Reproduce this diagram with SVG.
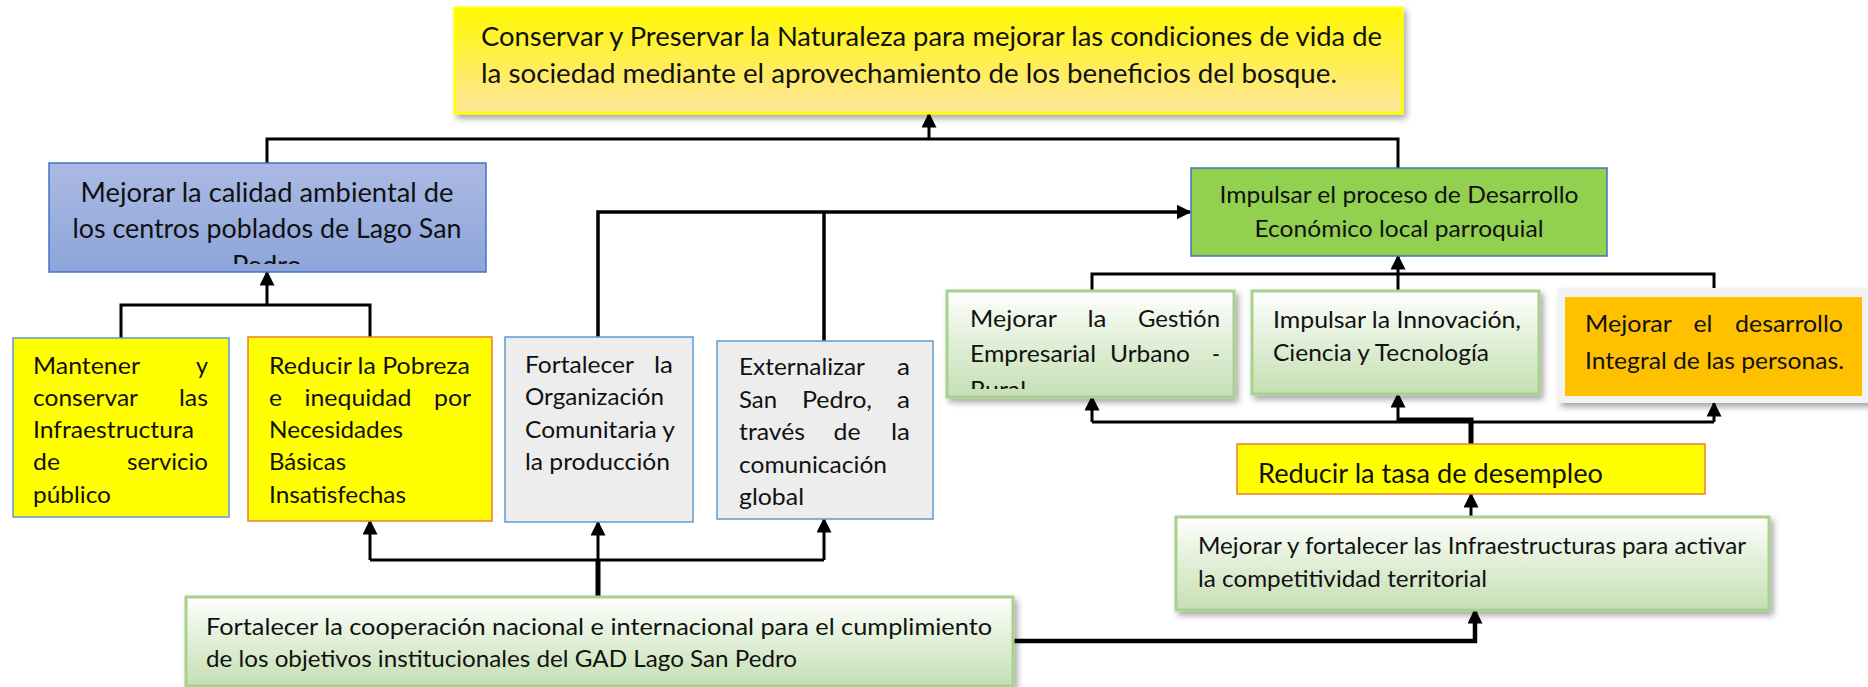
<svg xmlns="http://www.w3.org/2000/svg" width="1868" height="687" viewBox="0 0 1868 687">
<style>
text{font-family:Lato,"Noto Sans","Liberation Sans",sans-serif;fill:#111;font-size:23.5px}
.big{font-size:26.5px}
.blue{font-size:26px}
.e{text-anchor:end}
.m{text-anchor:middle}
.ln{fill:none;stroke:#000;stroke-width:3}
.th{fill:none;stroke:#000;stroke-width:5}
.ar{fill:none;stroke:#000;stroke-width:3;marker-end:url(#arr)}
.gbox{fill:url(#gGreen);stroke:#A9D18E;stroke-width:3;filter:url(#sh)}
</style>
<defs>
<linearGradient id="gTop" x1="0" y1="0" x2="0" y2="1"><stop offset="0" stop-color="#FFF800"/><stop offset="1" stop-color="#FFE59E"/></linearGradient>
<linearGradient id="gBlue" x1="0" y1="0" x2="0" y2="1"><stop offset="0" stop-color="#ABBAE3"/><stop offset="1" stop-color="#8DA5DA"/></linearGradient>
<linearGradient id="gGreen" x1="0" y1="0" x2="0" y2="1"><stop offset="0" stop-color="#FFFFFF"/><stop offset="0.45" stop-color="#E3F0DA"/><stop offset="1" stop-color="#C5E0B4"/></linearGradient>
<filter id="sh" x="-5%" y="-10%" width="115%" height="130%"><feDropShadow dx="3" dy="4" stdDeviation="3" flood-color="#000" flood-opacity="0.35"/></filter>
<marker id="arr" viewBox="0 0 10 10" refX="9" refY="5" markerWidth="15" markerHeight="15" markerUnits="userSpaceOnUse" orient="auto"><path d="M0,0 L10,5 L0,10 z" fill="#000"/></marker>
<clipPath id="cBlue"><rect x="49" y="163" width="437" height="101"/></clipPath>
<clipPath id="cGest"><rect x="947" y="291" width="287" height="98"/></clipPath>
<clipPath id="cRed"><rect x="1237" y="444" width="468" height="50"/></clipPath>
</defs>

<g id="connectors">
<path class="ln" d="M267 163 V139 H1398 V168"/>
<path class="ar" d="M929 139 V114"/>
<path class="ln" d="M121 338 V305 H370 V337"/>
<path class="ar" d="M267 305 V272"/>
<path class="ar" d="M598 337 V212 H1190" style="stroke-width:3.5"/>
<path class="ln" d="M824 341 V212" style="stroke-width:3.5"/>
<path class="ln" d="M1092 291 V274 H1714 V288"/>
<path class="ar" d="M1398 291 V256"/>
<path class="ln" d="M1092 422 H1714"/>
<path class="ar" d="M1092 422 V397"/>
<path class="ar" d="M1398 422 V394"/>
<path class="ar" d="M1714 422 V403"/>
<path class="th" d="M1471 444 V420 H1398"/>
<path class="ar" d="M1471 517 V494"/>
<path class="th" d="M598 597 V560"/>
<path class="ln" d="M370 560 H824"/>
<path class="ar" d="M370 560 V521"/>
<path class="ar" d="M598 560 V522"/>
<path class="ar" d="M824 560 V519"/>
<path class="ar" d="M1013 641 H1475 V610" style="stroke-width:4.5"/>
</g>

<g id="n-top">
<rect x="455" y="8" width="947" height="105" fill="url(#gTop)" stroke="#FFFF00" stroke-width="3" filter="url(#sh)"/>
<text class="big" x="481" y="46" textLength="901" lengthAdjust="spacingAndGlyphs">Conservar y Preservar la Naturaleza para mejorar las condiciones de vida de</text>
<text class="big" x="481" y="83" textLength="856" lengthAdjust="spacingAndGlyphs">la sociedad mediante el aprovechamiento de los beneficios del bosque.</text>
</g>

<g id="n-blue">
<rect x="49" y="163" width="437" height="109" fill="url(#gBlue)" stroke="#4472C4" stroke-width="1.5"/>
<g clip-path="url(#cBlue)">
<text class="blue m" x="267" y="202" textLength="373" lengthAdjust="spacingAndGlyphs">Mejorar la calidad ambiental de</text>
<text class="blue m" x="267" y="238" textLength="389" lengthAdjust="spacingAndGlyphs">los centros poblados de Lago San</text>
<text class="blue m" x="267" y="275" textLength="70" lengthAdjust="spacingAndGlyphs">Pedro</text>
</g>
</g>

<g id="n-green">
<rect x="1191" y="168" width="416" height="88" fill="#92D050" stroke="#4472C4" stroke-width="1.5"/>
<text class="m" x="1399" y="203" textLength="359" lengthAdjust="spacingAndGlyphs">Impulsar el proceso de Desarrollo</text>
<text class="m" x="1399" y="237" textLength="289" lengthAdjust="spacingAndGlyphs">Económico local parroquial</text>
</g>

<g id="n-mantener">
<rect x="13" y="338" width="216" height="179" fill="#FFFF00" stroke="#5B9BD5" stroke-width="1.5"/>
<text x="33" y="374" textLength="107" lengthAdjust="spacingAndGlyphs">Mantener</text><text class="e" x="208" y="374" textLength="12" lengthAdjust="spacingAndGlyphs">y</text>
<text x="33" y="406" textLength="105" lengthAdjust="spacingAndGlyphs">conservar</text><text class="e" x="208" y="406" textLength="29" lengthAdjust="spacingAndGlyphs">las</text>
<text x="33" y="438" textLength="161" lengthAdjust="spacingAndGlyphs">Infraestructura</text>
<text x="33" y="470" textLength="27" lengthAdjust="spacingAndGlyphs">de</text><text class="e" x="208" y="470" textLength="81" lengthAdjust="spacingAndGlyphs">servicio</text>
<text x="33" y="503" textLength="78" lengthAdjust="spacingAndGlyphs">público</text>
</g>

<g id="n-pobreza">
<rect x="248" y="337" width="244" height="184" fill="#FFFF00" stroke="#ED7D31" stroke-width="1.5"/>
<text x="269" y="374" textLength="201" lengthAdjust="spacingAndGlyphs">Reducir la Pobreza</text>
<text x="269" y="406" textLength="13" lengthAdjust="spacingAndGlyphs">e</text><text class="m" x="358" y="406" textLength="107" lengthAdjust="spacingAndGlyphs">inequidad</text><text class="e" x="471" y="406" textLength="37" lengthAdjust="spacingAndGlyphs">por</text>
<text x="269" y="438" textLength="134" lengthAdjust="spacingAndGlyphs">Necesidades</text>
<text x="269" y="470" textLength="77" lengthAdjust="spacingAndGlyphs">Básicas</text>
<text x="269" y="503" textLength="137" lengthAdjust="spacingAndGlyphs">Insatisfechas</text>
</g>

<g id="n-organizacion">
<rect x="505" y="337" width="188" height="185" fill="#EDEDED" stroke="#5B9BD5" stroke-width="1.5"/>
<text x="525" y="373" textLength="109" lengthAdjust="spacingAndGlyphs">Fortalecer</text><text class="e" x="673" y="373" textLength="19" lengthAdjust="spacingAndGlyphs">la</text>
<text x="525" y="405" textLength="139" lengthAdjust="spacingAndGlyphs">Organización</text>
<text x="525" y="438" textLength="150" lengthAdjust="spacingAndGlyphs">Comunitaria y</text>
<text x="525" y="470" textLength="145" lengthAdjust="spacingAndGlyphs">la producción</text>
</g>

<g id="n-externalizar">
<rect x="717" y="341" width="216" height="178" fill="#EDEDED" stroke="#5B9BD5" stroke-width="1.5"/>
<text x="739" y="375" textLength="126" lengthAdjust="spacingAndGlyphs">Externalizar</text><text class="e" x="910" y="375" textLength="13" lengthAdjust="spacingAndGlyphs">a</text>
<text x="739" y="408" textLength="38" lengthAdjust="spacingAndGlyphs">San</text><text class="m" x="837" y="408" textLength="70" lengthAdjust="spacingAndGlyphs">Pedro,</text><text class="e" x="910" y="408" textLength="13" lengthAdjust="spacingAndGlyphs">a</text>
<text x="739" y="440" textLength="66" lengthAdjust="spacingAndGlyphs">través</text><text class="m" x="847" y="440" textLength="27" lengthAdjust="spacingAndGlyphs">de</text><text class="e" x="910" y="440" textLength="19" lengthAdjust="spacingAndGlyphs">la</text>
<text x="739" y="473" textLength="148" lengthAdjust="spacingAndGlyphs">comunicación</text>
<text x="739" y="505" textLength="65" lengthAdjust="spacingAndGlyphs">global</text>
</g>

<g id="n-gestion">
<rect class="gbox" x="947" y="291" width="287" height="106"/>
<g clip-path="url(#cGest)">
<text x="970" y="327" textLength="87" lengthAdjust="spacingAndGlyphs">Mejorar</text><text class="m" x="1097" y="327" textLength="19" lengthAdjust="spacingAndGlyphs">la</text><text class="e" x="1220" y="327" textLength="82" lengthAdjust="spacingAndGlyphs">Gestión</text>
<text x="970" y="362" textLength="126" lengthAdjust="spacingAndGlyphs">Empresarial</text><text class="m" x="1150" y="362" textLength="80" lengthAdjust="spacingAndGlyphs">Urbano</text><text class="e" x="1220" y="362" textLength="8" lengthAdjust="spacingAndGlyphs">-</text>
<text x="970" y="398" textLength="56" lengthAdjust="spacingAndGlyphs">Rural</text>
</g>
</g>

<g id="n-innovacion">
<rect class="gbox" x="1252" y="291" width="287" height="103"/>
<text x="1273" y="328" textLength="248" lengthAdjust="spacingAndGlyphs">Impulsar la Innovación,</text>
<text x="1273" y="361" textLength="216" lengthAdjust="spacingAndGlyphs">Ciencia y Tecnología</text>
</g>

<g id="n-desarrollo">
<rect x="1558" y="288" width="312" height="115" fill="#F2F2F2" filter="url(#sh)"/>
<rect x="1565" y="297" width="297" height="99" fill="#FFC000"/>
<text x="1585" y="332" textLength="87" lengthAdjust="spacingAndGlyphs">Mejorar</text><text class="m" x="1703" y="332" textLength="19" lengthAdjust="spacingAndGlyphs">el</text><text class="e" x="1843" y="332" textLength="108" lengthAdjust="spacingAndGlyphs">desarrollo</text>
<text x="1585" y="369" textLength="259" lengthAdjust="spacingAndGlyphs">Integral de las personas.</text>
</g>

<g id="n-desempleo">
<rect x="1237" y="444" width="468" height="50" fill="#FFFF00" stroke="#ED7D31" stroke-width="1.5"/>
<g clip-path="url(#cRed)">
<text x="1258" y="483" style="font-size:26px" textLength="345" lengthAdjust="spacingAndGlyphs">Reducir la tasa de desempleo</text>
</g>
</g>

<g id="n-infraestructuras">
<rect class="gbox" x="1176" y="517" width="593" height="93"/>
<text x="1198" y="554" textLength="548" lengthAdjust="spacingAndGlyphs">Mejorar y fortalecer las Infraestructuras para activar</text>
<text x="1198" y="587" textLength="289" lengthAdjust="spacingAndGlyphs">la competitividad territorial</text>
</g>

<g id="n-cooperacion">
<rect class="gbox" x="186" y="597" width="827" height="89"/>
<text x="206" y="635" textLength="786" lengthAdjust="spacingAndGlyphs">Fortalecer la cooperación nacional e internacional para el cumplimiento</text>
<text x="206" y="667" textLength="591" lengthAdjust="spacingAndGlyphs">de los objetivos institucionales del GAD Lago San Pedro</text>
</g>
</svg>
